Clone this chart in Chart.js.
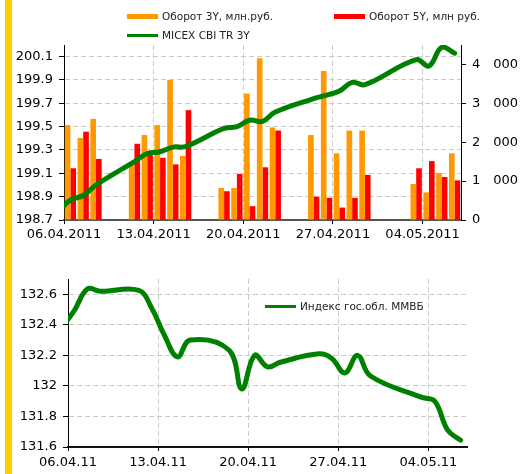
<!DOCTYPE html>
<html>
<head>
<meta charset="utf-8">
<script src="https://cdn.jsdelivr.net/npm/chart.js@4.4.1/dist/chart.umd.min.js"></script>
<style>
  body { margin: 0; background: #fff; }
  #page { position: relative; width: 521px; height: 474px; overflow: hidden; font-family: "DejaVu Sans", Verdana, sans-serif; }
  #stripe { position: absolute; left: 5px; top: 0; width: 7px; height: 474px; background: #ffcc00; }
  #c1 { position: absolute; left: 0; top: 0; }
  #c2 { position: absolute; left: 0; top: 250px; }
  .lg { position: absolute; display: flex; align-items: center; height: 12px; font-size: 10.5px; color: #222; white-space: nowrap; }
  .lg i { display: inline-block; width: 31px; margin-right: 4px; }
</style>
</head>
<body>
<div id="page">
  <div id="stripe"></div>
  <canvas id="c1" width="521" height="250"></canvas>
  <canvas id="c2" width="521" height="224"></canvas>
  <div class="lg" style="left:127px;top:10px"><i style="height:5px;background:#ff9900"></i><span id="lg1"></span></div>
  <div class="lg" style="left:334px;top:10px"><i style="height:5px;background:#ff0000"></i><span id="lg2"></span></div>
  <div class="lg" style="left:127px;top:29px"><i style="height:3px;background:#008000"></i><span id="lg3"></span></div>
  <div class="lg" style="left:265px;top:300px"><i style="height:3px;background:#008000"></i><span id="lg4"></span></div>
</div>
<script>
// trading days (05.04 is only visible as the start of the lines)
const tradeDates = ['05.04.2011', '06.04.2011', '07.04.2011', '08.04.2011', '11.04.2011', '12.04.2011',
  '13.04.2011', '14.04.2011', '15.04.2011', '18.04.2011', '19.04.2011', '20.04.2011', '21.04.2011',
  '22.04.2011', '25.04.2011', '26.04.2011', '27.04.2011', '28.04.2011', '29.04.2011', '03.05.2011',
  '04.05.2011', '05.05.2011', '06.05.2011'];

const turnover3Y = [null, 2440, 2110, 2600, 1460, 2185, 2440, 3600, 1650, 825, 825, 3250, 4160, 2380,
  2185, 3830, 1715, 2300, 2300, 925, 710, 1210, 1715];
const turnover5Y = [null, 1330, 2270, 1570, 1960, 1770, 1600, 1430, 2825, 740, 1185, 355, 1355, 2300,
  600, 570, 320, 570, 1160, 1330, 1515, 1105, 1020];
const micexCbi3Y = [198.77, 198.87, 198.91, 199.00, 199.20, 199.27, 199.285, 199.325, 199.33, 199.485,
  199.50, 199.555, 199.545, 199.625, 199.74, 199.77, 199.805, 199.88, 199.86, 200.075, 200.02, 200.18, 200.13];
const govBondIndex = [132.38, 132.495, 132.635, 132.62, 132.625, 132.51, 132.33, 132.19, 132.30, 132.235,
  131.98, 132.20, 132.125, 132.155, 132.21, 132.18, 132.085, 132.20, 132.065, 131.925, 131.90, 131.71, 131.645];

const topTickLabels = ['06.04.2011', '13.04.2011', '20.04.2011', '27.04.2011', '04.05.2011'];
const bottomTickLabels = ['06.04.11', '13.04.11', '20.04.11', '27.04.11', '04.05.11'];
const leftTicks = [198.7, 198.9, 199.1, 199.3, 199.5, 199.7, 199.9, 200.1];
const rightTicks = [0, 1000, 2000, 3000, 4000];
const bondTicks = [131.6, 131.8, 132, 132.2, 132.4, 132.6];

const labels = {
  t3: 'Оборот 3Y, млн.руб.',
  t5: 'Оборот 5Y, млн руб.',
  micex: 'MICEX CBI TR 3Y',
  bond: 'Индекс гос.обл. ММВБ'
};
document.getElementById('lg1').textContent = labels.t3;
document.getElementById('lg2').textContent = labels.t5;
document.getElementById('lg3').textContent = labels.micex;
document.getElementById('lg4').textContent = labels.bond;

// date string -> day number
function dayNum(s) {
  const p = s.split('.');
  let y = +p[2];
  if (y < 100) y += 2000;
  return Date.UTC(y, +p[1] - 1, +p[0]) / 864e5;
}
const t0 = dayNum(topTickLabels[0]);
const mid = s => dayNum(s) - t0 + 0.5;   // points sit in the middle of their day
const pts = arr => tradeDates.map((d, i) => ({ x: mid(d), y: arr[i] }));
const topTickPos = topTickLabels.map(s => dayNum(s) - t0);
const bottomTickPos = bottomTickLabels.map(s => dayNum(s) - t0);

Chart.defaults.font.family = '"DejaVu Sans", Verdana, sans-serif';
Chart.defaults.font.size = 13;
Chart.defaults.color = '#000';
Chart.defaults.animation = false;

const GRID = '#cccccc';
const DASH = [5, 3];
const GREEN = '#008000';

function fmtThousands(v) {
  return String(v).replace(/\B(?=(\d{3})+$)/g, '\u2003');
}

// top chart: turnover bars + index line
new Chart(document.getElementById('c1'), {
  type: 'line',
  data: {
    datasets: [
      {
        type: 'line', label: labels.micex, data: pts(micexCbi3Y), yAxisID: 'y',
        borderColor: GREEN, borderWidth: 5, pointRadius: 0, tension: 0.4,
        borderCapStyle: 'round', borderJoinStyle: 'round', order: 0
      },
      {
        type: 'bar', label: labels.t3, data: pts(turnover3Y), yAxisID: 'y1',
        backgroundColor: '#ff9900', borderWidth: 0, categoryPercentage: 0.88, barPercentage: 1, order: 1
      },
      {
        type: 'bar', label: labels.t5, data: pts(turnover5Y), yAxisID: 'y1',
        backgroundColor: '#ff0000', borderWidth: 0, categoryPercentage: 0.88, barPercentage: 1, order: 1
      }
    ]
  },
  options: {
    responsive: false,
    layout: { padding: { top: 45, left: 0, right: 0, bottom: 0 } },
    plugins: { legend: { display: false }, tooltip: { enabled: false } },
    scales: {
      x: {
        type: 'linear', min: 0, max: 31, offset: false,
        afterFit: s => { s.height = 30; },
        afterBuildTicks: s => { s.ticks = topTickPos.map(v => ({ value: v })); },
        ticks: { callback: (v, i) => topTickLabels[i], padding: 3, maxRotation: 0, autoSkip: false },
        grid: { color: GRID, tickColor: '#000', tickLength: 4, offset: false },
        border: { color: '#555', width: 2, dash: DASH }
      },
      y: {
        position: 'left', min: 198.7, max: 200.2,
        afterFit: s => { s.width = 64; },
        afterBuildTicks: s => { s.ticks = leftTicks.map(v => ({ value: v })); },
        ticks: { callback: v => v.toFixed(1), padding: 6 },
        grid: { color: GRID, tickColor: '#000', tickLength: 5 },
        border: { color: '#000', width: 1, dash: DASH }
      },
      y1: {
        position: 'right', min: 0, max: 4500,
        afterFit: s => { s.width = 60; },
        afterBuildTicks: s => { s.ticks = rightTicks.map(v => ({ value: v })); },
        ticks: { callback: v => fmtThousands(v), padding: 6 },
        grid: { drawOnChartArea: false, color: '#000', tickLength: 5 },
        border: { color: '#000', width: 1 }
      }
    }
  }
});

// bottom chart: government bond index
new Chart(document.getElementById('c2'), {
  type: 'line',
  data: {
    datasets: [{
      label: labels.bond, data: pts(govBondIndex),
      borderColor: GREEN, borderWidth: 5, pointRadius: 0, tension: 0.4,
      borderCapStyle: 'round', borderJoinStyle: 'round'
    }]
  },
  options: {
    responsive: false,
    layout: { padding: { top: 29, left: 0, right: 54, bottom: 0 } },
    plugins: { legend: { display: false }, tooltip: { enabled: false } },
    scales: {
      x: {
        type: 'linear', min: 0, max: 31,
        afterFit: s => { s.height = 27; },
        afterBuildTicks: s => { s.ticks = bottomTickPos.map(v => ({ value: v })); },
        ticks: { callback: (v, i) => bottomTickLabels[i], padding: 4, maxRotation: 0, autoSkip: false },
        grid: { color: GRID, tickColor: '#000', tickLength: 4 },
        border: { color: '#111', width: 2, dash: DASH }
      },
      y: {
        min: 131.6, max: 132.7,
        afterFit: s => { s.width = 68; },
        afterBuildTicks: s => { s.ticks = bondTicks.map(v => ({ value: v })); },
        ticks: { callback: v => String(+v.toFixed(1)), padding: 6 },
        grid: { color: GRID, tickColor: '#000', tickLength: 5 },
        border: { color: '#000', width: 1, dash: DASH }
      }
    }
  }
});
</script>
</body>
</html>
